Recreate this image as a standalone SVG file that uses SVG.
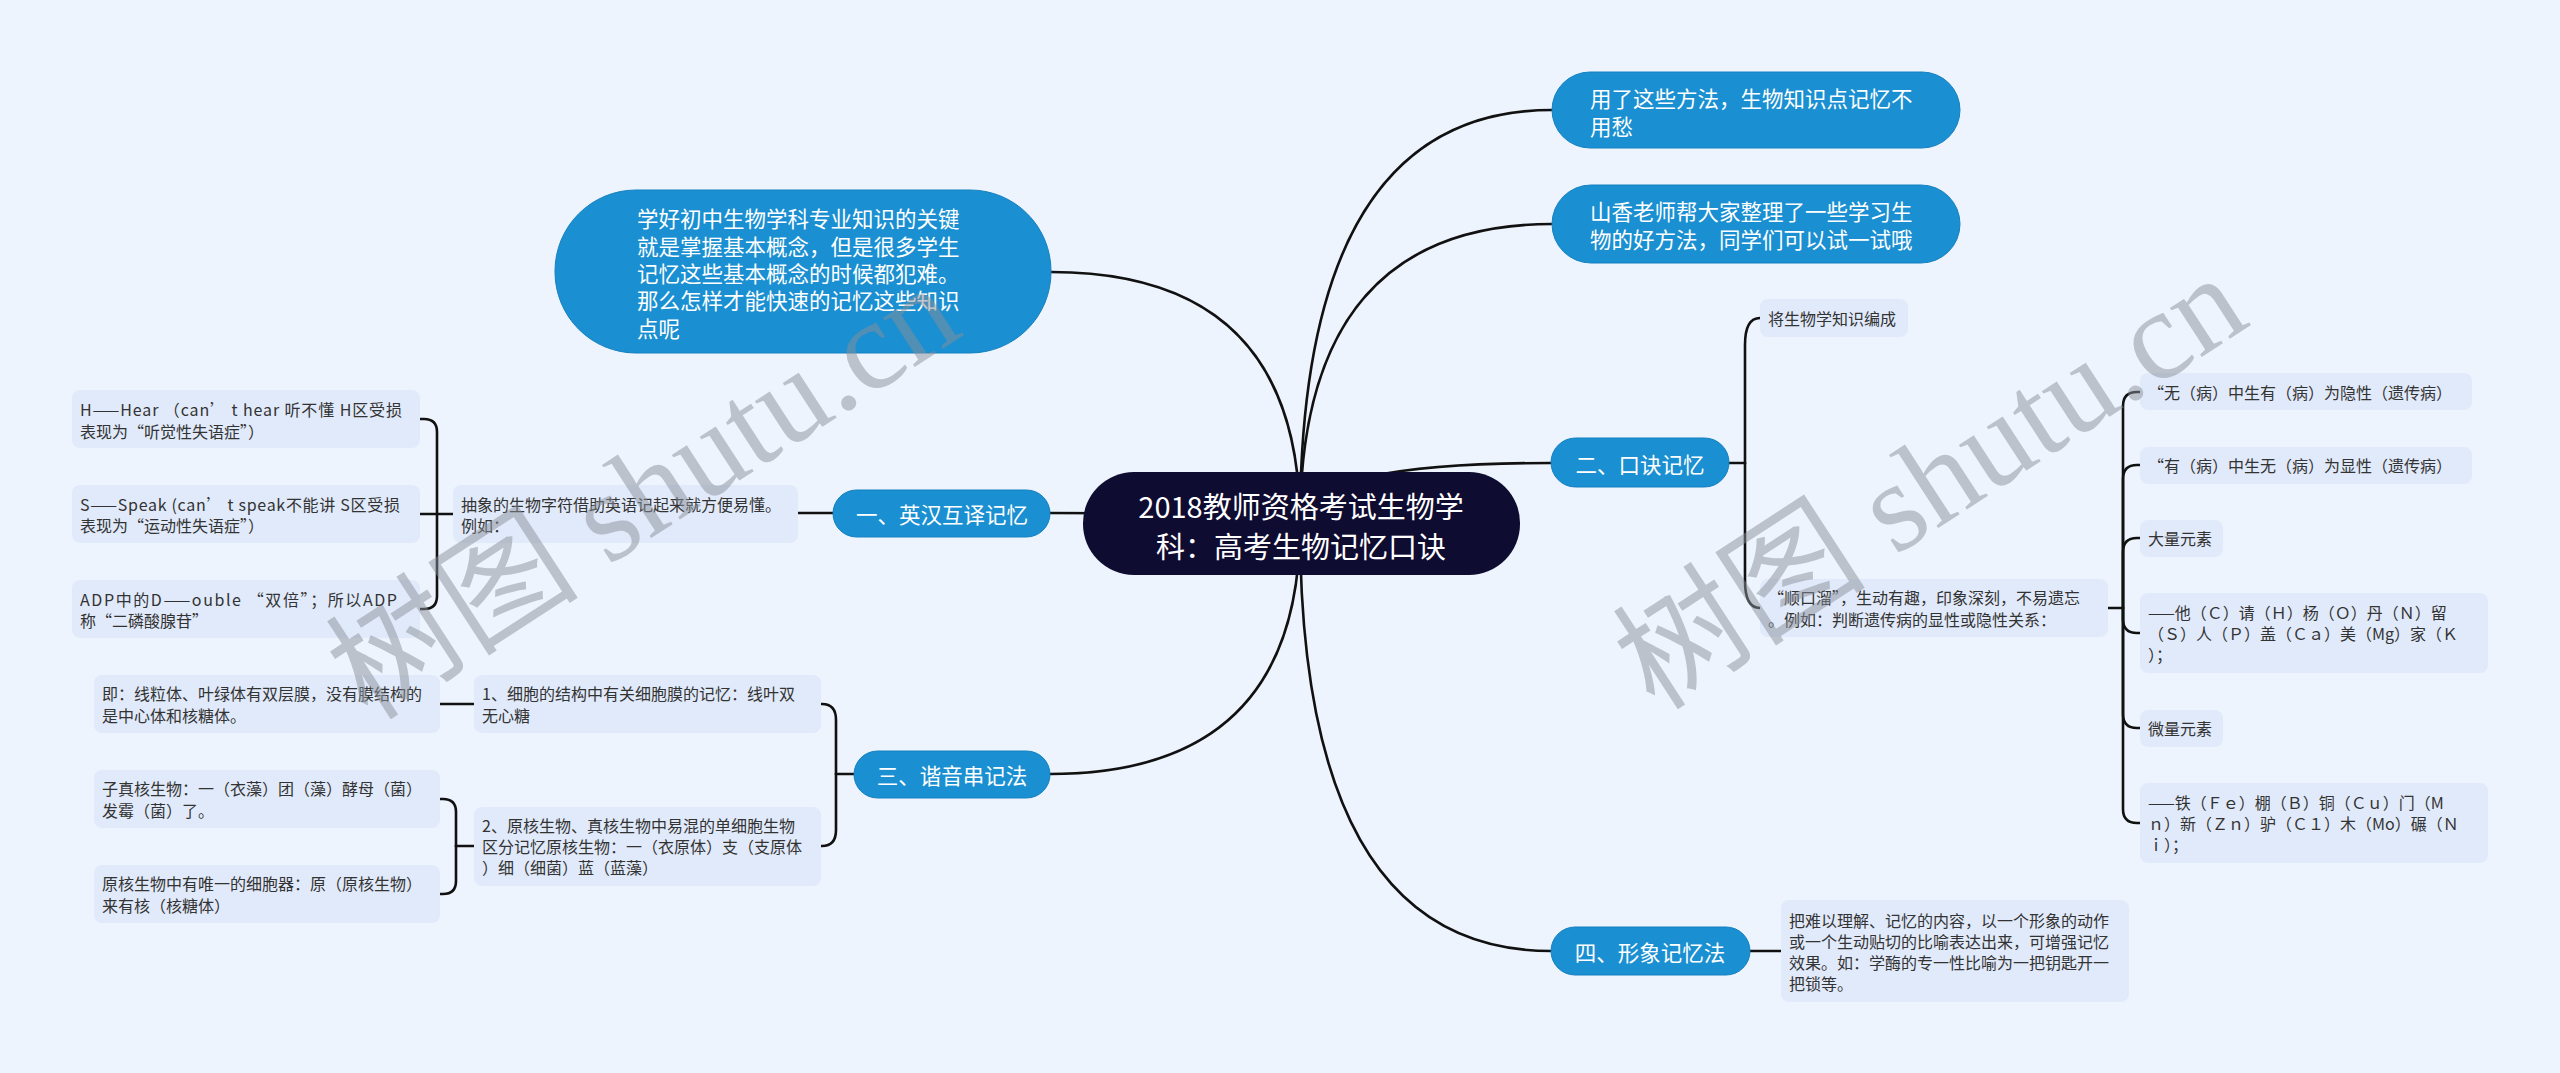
<svg xmlns="http://www.w3.org/2000/svg" width="2560" height="1073" viewBox="0 0 2560 1073">
<style>
.bg{fill:#eef4fd}
.blue{fill:#1a8fd1;stroke:#1580c0;stroke-width:1}
.center{fill:#0f0c31}
.leaf{fill:#e1eafa}
.wt{fill:#ffffff;font-family:'Noto Sans CJK SC','Noto Sans',sans-serif;font-size:21.5px;dominant-baseline:central}
.lt{fill:#333333;font-family:'Noto Sans CJK SC','Noto Sans',sans-serif;font-size:16px;dominant-baseline:central}
.ct{fill:#ffffff;font-family:'Noto Sans CJK SC','Noto Sans',sans-serif;font-size:29px;dominant-baseline:central;text-anchor:middle}
.mid{text-anchor:middle}
.ln{fill:none;stroke:#111111;stroke-width:2.6;stroke-linecap:round}
.wm{fill:#8a8f99;fill-opacity:0.5;font-family:'Liberation Serif','Noto Sans CJK SC',serif;font-size:127px}
</style>
<rect class="bg" x="0" y="0" width="2560" height="1073"/>

<g id="connectors">
<path class="ln" d="M1300 524 Q1300 110 1552 110"/>
<path class="ln" d="M1300 524 Q1300 224 1552 224"/>
<path class="ln" d="M1300 524 Q1300 463 1551 463"/>
<path class="ln" d="M1300 524 Q1300 951 1551 951"/>
<path class="ln" d="M1300 524 Q1300 272 1051 272"/>
<path class="ln" d="M1300 524 Q1300 513 1050 513"/>
<path class="ln" d="M1300 524 Q1300 774 1050 774"/>
<!-- 一 -->
<path class="ln" d="M833 513 H798"/>
<path class="ln" d="M453 514 H437"/>
<path class="ln" d="M437 514 V432 Q437 419 424 419 H420"/>
<path class="ln" d="M437 514 H420"/>
<path class="ln" d="M437 514 V596 Q437 609 424 609 H420"/>
<!-- 三 -->
<path class="ln" d="M854 774 H836"/>
<path class="ln" d="M836 774 V720 Q836 704 822 704 H821"/>
<path class="ln" d="M836 774 V830 Q836 846 822 846 H821"/>
<path class="ln" d="M474 704 H440"/>
<path class="ln" d="M474 846 H456"/>
<path class="ln" d="M456 846 V812 Q456 799 443 799 H440"/>
<path class="ln" d="M456 846 V881 Q456 894 443 894 H440"/>
<!-- 二 -->
<path class="ln" d="M1729 463 H1745"/>
<path class="ln" d="M1745 463 V345 Q1745 318 1760 318"/>
<path class="ln" d="M1745 463 V581 Q1745 608 1760 608"/>
<path class="ln" d="M2108 608 H2123"/>
<path class="ln" d="M2123 608 V406 Q2123 392 2137 392 H2140"/>
<path class="ln" d="M2123 608 V479 Q2123 465 2137 465 H2140"/>
<path class="ln" d="M2123 608 V552 Q2123 538 2137 538 H2140"/>
<path class="ln" d="M2123 608 V619 Q2123 633 2137 633 H2140"/>
<path class="ln" d="M2123 608 V714 Q2123 728 2137 728 H2140"/>
<path class="ln" d="M2123 608 V809 Q2123 823 2137 823 H2140"/>
<!-- 四 -->
<path class="ln" d="M1750 951 H1781"/>
</g>

<g id="n-center">
<rect class="center" x="1083" y="472" width="437" height="103" rx="51"/>
<text class="ct"><tspan x="1301" y="505">2018教师资格考试生物学</tspan><tspan x="1301" y="545">科：高考生物记忆口诀</tspan></text>
</g>

<g id="n-intro">
<rect class="blue" x="555" y="190" width="496" height="163" rx="81"/>
<text class="wt"><tspan x="637" y="217">学好初中生物学科专业知识的关键</tspan><tspan x="637" y="245">就是掌握基本概念，但是很多学生</tspan><tspan x="637" y="272">记忆这些基本概念的时候都犯难。</tspan><tspan x="637" y="299">那么怎样才能快速的记忆这些知识</tspan><tspan x="637" y="327">点呢</tspan></text>
</g>

<g id="n-tip1">
<rect class="blue" x="1552" y="72" width="408" height="76" rx="38"/>
<text class="wt"><tspan x="1590" y="97">用了这些方法，生物知识点记忆不</tspan><tspan x="1590" y="125">用愁</tspan></text>
</g>

<g id="n-tip2">
<rect class="blue" x="1552" y="185" width="408" height="78" rx="39"/>
<text class="wt"><tspan x="1590" y="210">山香老师帮大家整理了一些学习生</tspan><tspan x="1590" y="238">物的好方法，同学们可以试一试哦</tspan></text>
</g>

<g id="n-1">
<rect class="blue" x="833" y="490" width="217" height="47" rx="23.5"/>
<text class="wt mid" x="942" y="513">一、英汉互译记忆</text>
</g>
<g id="n-2">
<rect class="blue" x="1551" y="438" width="178" height="49" rx="24.5"/>
<text class="wt mid" x="1640" y="463">二、口诀记忆</text>
</g>
<g id="n-3">
<rect class="blue" x="854" y="751" width="196" height="47" rx="23.5"/>
<text class="wt mid" x="952" y="774">三、谐音串记法</text>
</g>
<g id="n-4">
<rect class="blue" x="1551" y="927" width="199" height="48" rx="24"/>
<text class="wt mid" x="1650" y="951">四、形象记忆法</text>
</g>

<g id="l-abstract">
<rect class="leaf" x="453" y="485" width="345" height="58" rx="8"/>
<text class="lt"><tspan x="461" y="504">抽象的生物字符借助英语记起来就方便易懂。</tspan><tspan x="461" y="525">例如：</tspan></text>
</g>
<g id="l-h">
<rect class="leaf" x="72" y="390" width="348" height="58" rx="8"/>
<text class="lt"><tspan x="80" y="409" textLength="322" lengthAdjust="spacing">H——Hear （can’ t hear 听不懂 H区受损</tspan><tspan x="80" y="431">表现为“听觉性失语症”）</tspan></text>
</g>
<g id="l-s">
<rect class="leaf" x="72" y="485" width="348" height="58" rx="8"/>
<text class="lt"><tspan x="80" y="504" textLength="320" lengthAdjust="spacing">S——Speak (can’ t speak不能讲 S区受损</tspan><tspan x="80" y="525">表现为“运动性失语症”）</tspan></text>
</g>
<g id="l-adp">
<rect class="leaf" x="72" y="580" width="348" height="58" rx="8"/>
<text class="lt"><tspan x="80" y="599" textLength="317" lengthAdjust="spacing">ADP中的D——ouble “双倍”；所以ADP</tspan><tspan x="80" y="620">称“二磷酸腺苷”</tspan></text>
</g>

<g id="l-cell1">
<rect class="leaf" x="474" y="675" width="347" height="58" rx="8"/>
<text class="lt"><tspan x="482" y="693">1、细胞的结构中有关细胞膜的记忆：线叶双</tspan><tspan x="482" y="715">无心糖</tspan></text>
</g>
<g id="l-cell1a">
<rect class="leaf" x="94" y="675" width="346" height="58" rx="8"/>
<text class="lt"><tspan x="102" y="693">即：线粒体、叶绿体有双层膜，没有膜结构的</tspan><tspan x="102" y="715">是中心体和核糖体。</tspan></text>
</g>
<g id="l-cell2">
<rect class="leaf" x="474" y="807" width="347" height="79" rx="8"/>
<text class="lt"><tspan x="482" y="825">2、原核生物、真核生物中易混的单细胞生物</tspan><tspan x="482" y="846">区分记忆原核生物：一（衣原体）支（支原体</tspan><tspan x="482" y="867">）细（细菌）蓝（蓝藻）</tspan></text>
</g>
<g id="l-cell2a">
<rect class="leaf" x="94" y="770" width="346" height="58" rx="8"/>
<text class="lt"><tspan x="102" y="788">子真核生物：一（衣藻）团（藻）酵母（菌）</tspan><tspan x="102" y="810">发霉（菌）了。</tspan></text>
</g>
<g id="l-cell2b">
<rect class="leaf" x="94" y="865" width="346" height="58" rx="8"/>
<text class="lt"><tspan x="102" y="883">原核生物中有唯一的细胞器：原（原核生物）</tspan><tspan x="102" y="905">来有核（核糖体）</tspan></text>
</g>

<g id="l-bian">
<rect class="leaf" x="1760" y="299" width="148" height="38" rx="8"/>
<text class="lt" x="1768" y="318">将生物学知识编成</text>
</g>
<g id="l-shun">
<rect class="leaf" x="1760" y="579" width="348" height="58" rx="8"/>
<text class="lt"><tspan x="1768" y="597">“顺口溜”，生动有趣，印象深刻，不易遗忘</tspan><tspan x="1768" y="619">。例如：判断遗传病的显性或隐性关系：</tspan></text>
</g>
<g id="l-wu">
<rect class="leaf" x="2140" y="373" width="332" height="37" rx="8"/>
<text class="lt" x="2148" y="392">“无（病）中生有（病）为隐性（遗传病）</text>
</g>
<g id="l-you">
<rect class="leaf" x="2140" y="447" width="332" height="37" rx="8"/>
<text class="lt" x="2148" y="465">“有（病）中生无（病）为显性（遗传病）</text>
</g>
<g id="l-da">
<rect class="leaf" x="2140" y="520" width="83" height="37" rx="8"/>
<text class="lt" x="2148" y="538">大量元素</text>
</g>
<g id="l-da1">
<rect class="leaf" x="2140" y="593" width="348" height="80" rx="8"/>
<text class="lt"><tspan x="2148" y="612">——他（Ｃ）请（Ｈ）杨（Ｏ）丹（Ｎ）留</tspan><tspan x="2148" y="633">（Ｓ）人（Ｐ）盖（Ｃａ）美（Mg）家（Ｋ</tspan><tspan x="2148" y="654">）；</tspan></text>
</g>
<g id="l-wei">
<rect class="leaf" x="2140" y="710" width="83" height="37" rx="8"/>
<text class="lt" x="2148" y="728">微量元素</text>
</g>
<g id="l-wei1">
<rect class="leaf" x="2140" y="783" width="348" height="80" rx="8"/>
<text class="lt"><tspan x="2148" y="802">——铁（Ｆｅ）棚（Ｂ）铜（Ｃｕ）门（M</tspan><tspan x="2148" y="823">ｎ）新（Ｚｎ）驴（Ｃ１）木（Mo）碾（Ｎ</tspan><tspan x="2148" y="844">ｉ）；</tspan></text>
</g>
<g id="l-xing">
<rect class="leaf" x="1781" y="900" width="348" height="102" rx="8"/>
<text class="lt"><tspan x="1789" y="920">把难以理解、记忆的内容，以一个形象的动作</tspan><tspan x="1789" y="941">或一个生动贴切的比喻表达出来，可增强记忆</tspan><tspan x="1789" y="962">效果。如：学酶的专一性比喻为一把钥匙开一</tspan><tspan x="1789" y="983">把锁等。</tspan></text>
</g>

<g id="watermarks">
<text class="wm" x="368" y="722" transform="rotate(-33 368 722)">树图 shutu.cn</text>
<text class="wm" x="1655" y="712" transform="rotate(-33 1655 712)">树图 shutu.cn</text>
</g>
</svg>
